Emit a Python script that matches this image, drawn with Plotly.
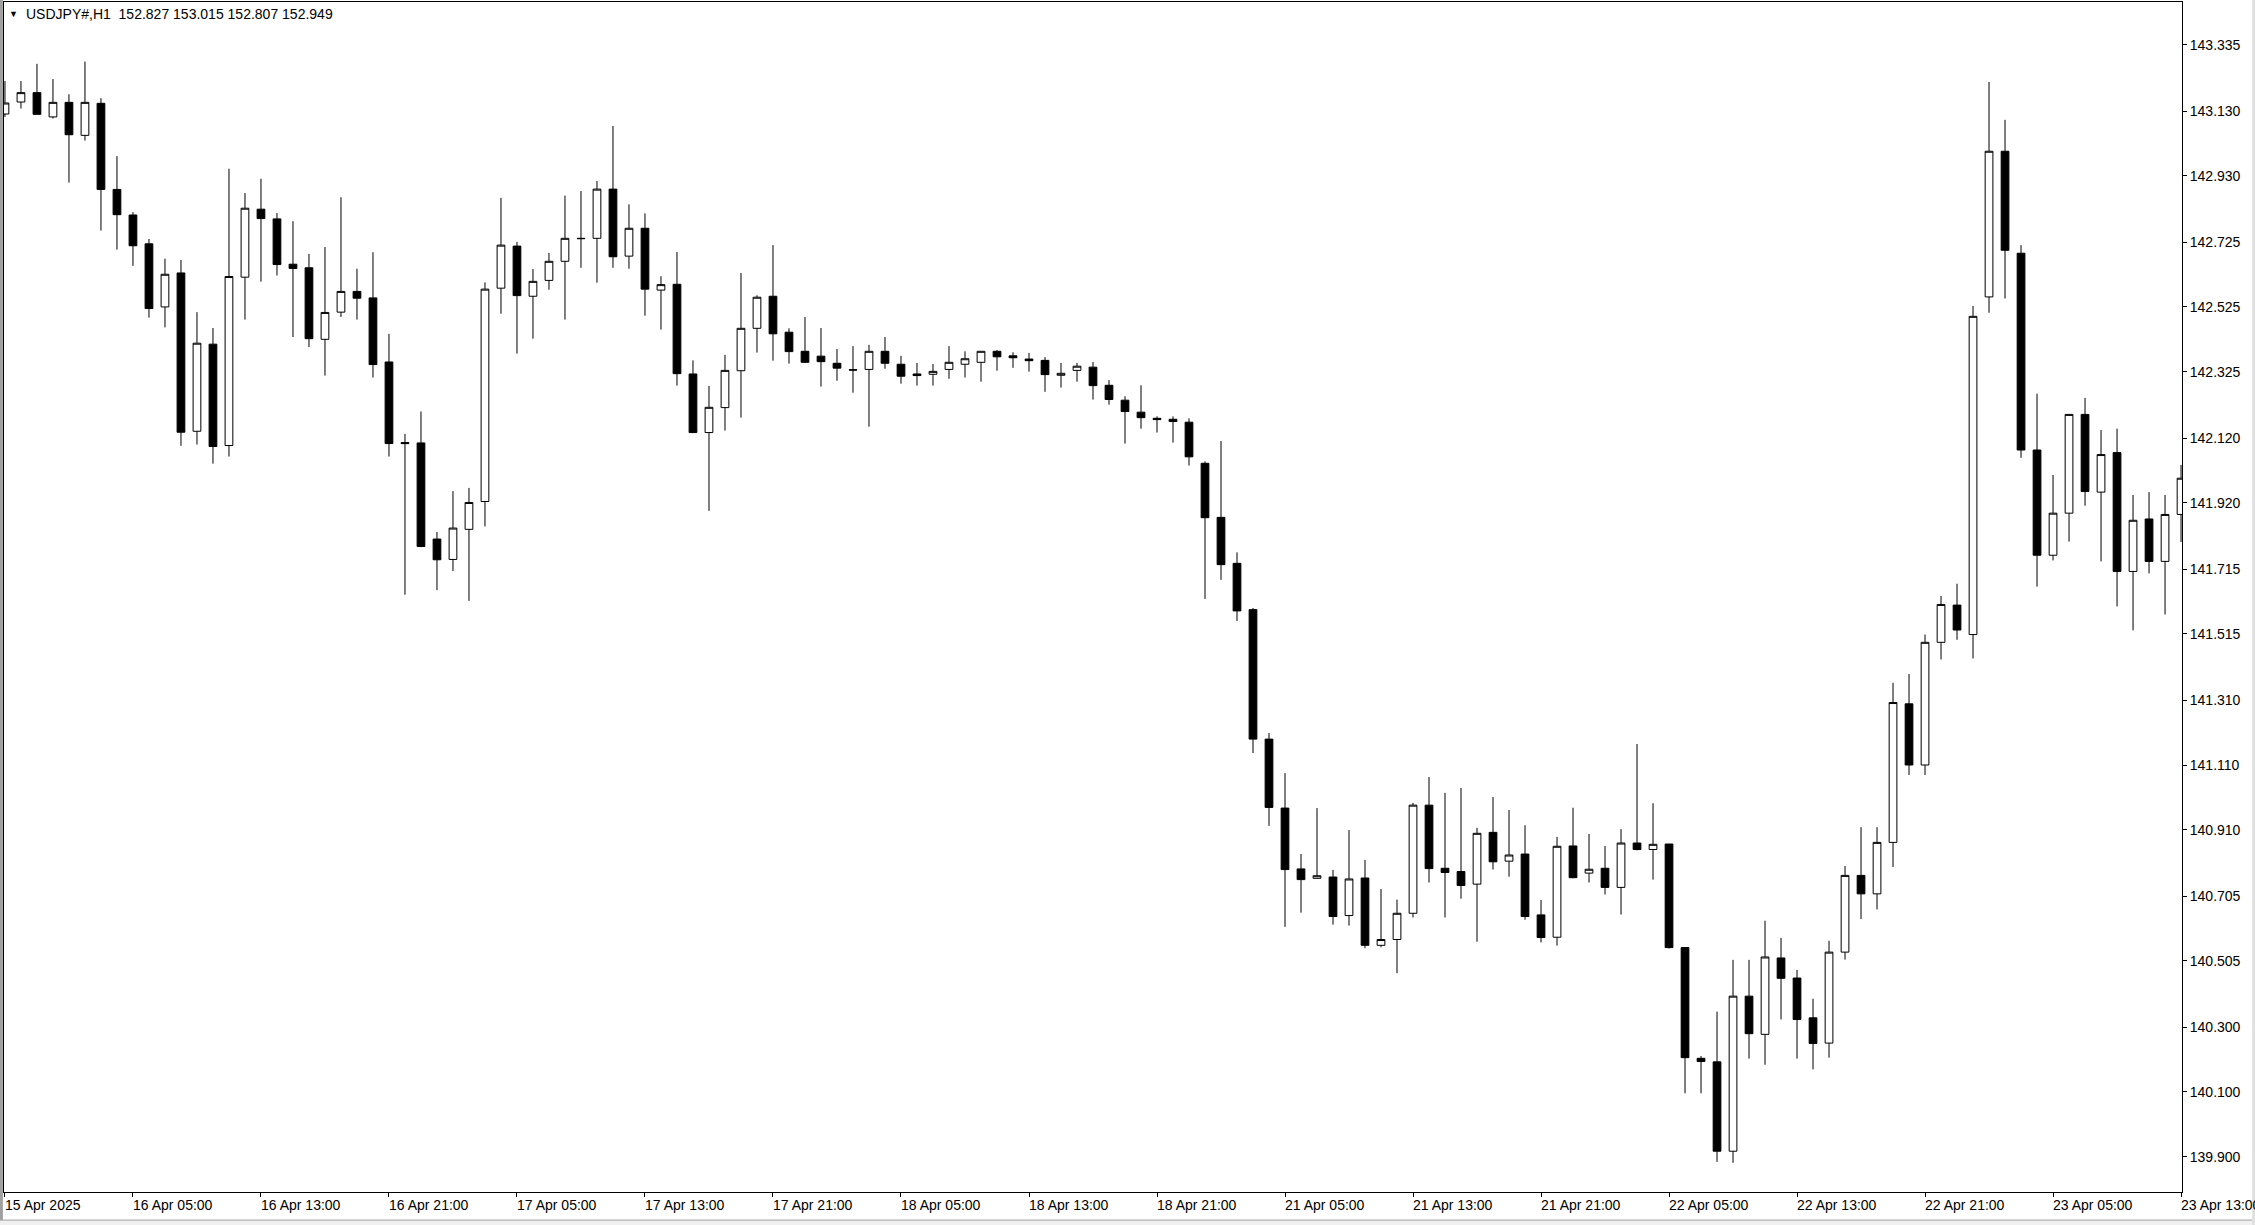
import plotly.graph_objects as go

# hourly USDJPY bars, 15 Apr 21:00 .. 23 Apr 13:00 (137 bars)
opens = [143.121, 143.158, 143.187, 143.112, 143.157, 143.055, 143.154, 142.888, 142.809, 142.720,
         142.525, 142.630, 142.141, 142.410, 142.097, 142.617, 142.827, 142.797, 142.657, 142.646,
         142.425, 142.509, 142.573, 142.553, 142.355, 142.106, 142.105, 141.808, 141.745, 141.838,
         141.924, 142.583, 142.713, 142.558, 142.607, 142.666, 142.737, 142.737, 142.889, 142.682,
         142.768, 142.577, 142.595, 142.318, 142.137, 142.214, 142.328, 142.459, 142.558, 142.447,
         142.388, 142.373, 142.351, 142.331, 142.332, 142.388, 142.348, 142.318, 142.317, 142.332,
         142.348, 142.354, 142.388, 142.374, 142.364, 142.360, 142.314, 142.329, 142.339, 142.283,
         142.237, 142.200, 142.181, 142.178, 142.169, 142.042, 141.875, 141.733, 141.590, 141.190,
         140.977, 140.789, 140.760, 140.764, 140.645, 140.761, 140.553, 140.571, 140.652, 140.986,
         140.791, 140.781, 140.742, 140.902, 140.813, 140.835, 140.647, 140.578, 140.860, 140.776,
         140.791, 140.732, 140.869, 140.849, 140.866, 140.546, 140.204, 140.193, 139.917, 140.396,
         140.278, 140.514, 140.452, 140.329, 140.251, 140.532, 140.769, 140.712, 140.871, 141.299,
         141.110, 141.489, 141.604, 141.513, 142.556, 143.006, 142.691, 142.083, 141.758, 141.888,
         142.193, 141.953, 142.075, 141.708, 141.870, 141.739, 141.884]
highs = [143.223, 143.223, 143.276, 143.229, 143.182, 143.283, 143.170, 142.991, 142.818, 142.735,
         142.674, 142.670, 142.509, 142.460, 142.952, 142.877, 142.921, 142.815, 142.790, 142.689,
         142.710, 142.864, 142.643, 142.694, 142.442, 142.133, 142.202, 141.830, 141.956, 141.966,
         142.601, 142.862, 142.726, 142.642, 142.692, 142.869, 142.883, 142.914, 143.084, 142.842,
         142.814, 142.620, 142.695, 142.360, 142.281, 142.377, 142.630, 142.561, 142.716, 142.459,
         142.494, 142.460, 142.395, 142.404, 142.408, 142.432, 142.374, 142.352, 142.349, 142.404,
         142.388, 142.388, 142.392, 142.385, 142.383, 142.370, 142.352, 142.352, 142.355, 142.299,
         142.249, 142.283, 142.187, 142.187, 142.181, 142.048, 142.111, 141.767, 141.595, 141.209,
         141.085, 140.835, 140.977, 140.786, 140.909, 140.817, 140.727, 140.694, 140.993, 141.073,
         141.024, 141.039, 140.916, 141.011, 140.971, 140.924, 140.693, 140.888, 140.978, 140.897,
         140.860, 140.912, 141.175, 140.992, 140.866, 140.546, 140.211, 140.348, 140.508, 140.508,
         140.629, 140.576, 140.477, 140.388, 140.567, 140.798, 140.918, 140.918, 141.364, 141.391,
         141.513, 141.632, 141.670, 142.528, 143.220, 143.103, 142.716, 142.257, 142.006, 142.193,
         142.244, 142.145, 142.149, 141.944, 141.953, 141.944, 142.037]
lows = [143.112, 143.138, 143.120, 143.107, 142.909, 143.039, 142.761, 142.702, 142.652, 142.492,
        142.462, 142.096, 142.100, 142.041, 142.063, 142.486, 142.603, 142.622, 142.432, 142.401,
        142.313, 142.494, 142.486, 142.307, 142.063, 141.636, 141.783, 141.650, 141.709, 141.617,
        141.847, 142.504, 142.381, 142.427, 142.578, 142.486, 142.646, 142.600, 142.646, 142.643,
        142.498, 142.455, 142.282, 142.135, 141.895, 142.143, 142.183, 142.384, 142.359, 142.350,
        142.352, 142.279, 142.297, 142.260, 142.155, 142.334, 142.288, 142.282, 142.282, 142.303,
        142.307, 142.294, 142.328, 142.337, 142.325, 142.263, 142.276, 142.294, 142.239, 142.223,
        142.103, 142.149, 142.137, 142.106, 142.035, 141.623, 141.682, 141.555, 141.147, 140.922,
        140.610, 140.654, 140.759, 140.617, 140.614, 140.544, 140.547, 140.467, 140.639, 140.747,
        140.639, 140.697, 140.564, 140.787, 140.765, 140.632, 140.562, 140.552, 140.760, 140.747,
        140.710, 140.648, 140.846, 140.756, 140.543, 140.096, 140.096, 139.884, 139.881, 140.203,
        140.184, 140.324, 140.203, 140.170, 140.206, 140.509, 140.634, 140.664, 140.795, 141.079,
        141.079, 141.436, 141.497, 141.439, 142.507, 142.551, 142.059, 141.661, 141.742, 141.800,
        141.911, 141.739, 141.600, 141.526, 141.702, 141.575, 141.799]
closes = [143.155, 143.187, 143.120, 143.157, 143.057, 143.157, 142.888, 142.810, 142.714, 142.520,
          142.626, 142.138, 142.413, 142.094, 142.619, 142.830, 142.798, 142.656, 142.644, 142.427,
          142.508, 142.573, 142.552, 142.347, 142.103, 142.103, 141.785, 141.744, 141.842, 141.921,
          142.580, 142.716, 142.560, 142.604, 142.666, 142.737, 142.736, 142.889, 142.680, 142.768,
          142.580, 142.594, 142.319, 142.137, 142.215, 142.329, 142.459, 142.555, 142.442, 142.387,
          142.354, 142.356, 142.336, 142.330, 142.388, 142.351, 142.311, 142.313, 142.326, 142.354,
          142.365, 142.388, 142.371, 142.368, 142.359, 142.316, 142.320, 142.342, 142.282, 142.239,
          142.202, 142.183, 142.177, 142.171, 142.062, 141.874, 141.729, 141.586, 141.190, 140.979,
          140.787, 140.756, 140.768, 140.642, 140.758, 140.553, 140.571, 140.652, 140.986, 140.790,
          140.778, 140.738, 140.899, 140.811, 140.832, 140.642, 140.577, 140.859, 140.762, 140.788,
          140.732, 140.869, 140.849, 140.865, 140.546, 140.206, 140.194, 139.917, 140.396, 140.280,
          140.517, 140.451, 140.324, 140.250, 140.532, 140.769, 140.712, 140.871, 141.303, 141.110,
          141.489, 141.606, 141.527, 142.496, 143.006, 142.700, 142.083, 141.758, 141.888, 142.193,
          141.955, 142.069, 141.708, 141.866, 141.739, 141.884, 141.996]

time_labels = ["15 Apr 2025", "16 Apr 05:00", "16 Apr 13:00", "16 Apr 21:00", "17 Apr 05:00",
               "17 Apr 13:00", "17 Apr 21:00", "18 Apr 05:00", "18 Apr 13:00", "18 Apr 21:00",
               "21 Apr 05:00", "21 Apr 13:00", "21 Apr 21:00", "22 Apr 05:00", "22 Apr 13:00",
               "22 Apr 21:00", "23 Apr 05:00", "23 Apr 13:00"]
label_bars = [0, 8, 16, 24, 32, 40, 48, 56, 64, 72, 80, 88, 96, 104, 112, 120, 128, 136]
price_ticks = [143.335, 143.130, 142.930, 142.725, 142.525, 142.325, 142.120, 141.920, 141.715,
               141.515, 141.310, 141.110, 140.910, 140.705, 140.505, 140.300, 140.100, 139.900]
header = "USDJPY#,H1\u00a0\u00a0152.827 153.015 152.807 152.949"

FONT = "Liberation Sans, Arial, sans-serif"
bars = list(range(len(opens)))

fig = go.Figure(go.Candlestick(
    x=bars, open=opens, high=highs, low=lows, close=closes,
    increasing=dict(line=dict(color="black", width=1), fillcolor="white"),
    decreasing=dict(line=dict(color="black", width=1), fillcolor="black"),
    whiskerwidth=0, hoverinfo="skip", showlegend=False,
))

# date labels sit to the right of their tick, MT4 style
for b, t in zip(label_bars, time_labels):
    fig.add_annotation(x=b, y=0, xref="x", yref="paper", text=t, showarrow=False,
                       xanchor="left", yanchor="middle", yshift=-13, xshift=-2,
                       font=dict(family=FONT, size=14, color="black"))

fig.add_annotation(x=0, y=1, xref="paper", yref="paper", text="\u25bc", showarrow=False,
                   xanchor="left", yanchor="middle", xshift=3, yshift=-12,
                   font=dict(family=FONT, size=9, color="black"))
fig.add_annotation(x=0, y=1, xref="paper", yref="paper", text=header, showarrow=False,
                   xanchor="left", yanchor="middle", xshift=20, yshift=-12,
                   font=dict(family=FONT, size=14, color="black"))

# window chrome: grey frame bits and the tab strip at the bottom
fig.add_shape(type="rect", xref="paper", yref="paper", x0=-0.0019, x1=-0.0005, y0=-0.03, y1=1.01,
              fillcolor="#a0a0a0", line_width=0, layer="below")
fig.add_shape(type="rect", xref="paper", yref="paper", x0=-0.01, x1=1.04, y0=-0.03, y1=-0.0236,
              fillcolor="#f0f0f0", line=dict(color="#a0a0a0", width=1), layer="below")
fig.add_shape(type="rect", xref="paper", yref="paper", x0=1.0322, x1=1.04, y0=-0.03, y1=1.01,
              fillcolor="#e0e0e0", line_width=0, layer="below")

fig.update_layout(
    width=2255, height=1225,
    margin=dict(l=4, r=73, t=2, b=33),
    paper_bgcolor="white", plot_bgcolor="white",
    boxgap=0.31,
    xaxis=dict(range=[-0.06, 136.06], rangeslider=dict(visible=False), showgrid=False,
               zeroline=False, showticklabels=False, tickvals=label_bars, ticks="outside",
               ticklen=4, tickcolor="black", showline=True, linecolor="black", linewidth=1,
               mirror=True),
    yaxis=dict(range=[139.791, 143.467], side="right", showgrid=False, zeroline=False,
               tickvals=price_ticks, tickformat=".3f", ticks="outside", ticklen=4,
               tickcolor="black", showline=True, linecolor="black", linewidth=1, mirror=True,
               tickfont=dict(family=FONT, size=14, color="black")),
)

# page body has a default 8px margin; drop it so the figure sits at the window corner
fig.write_html("out.html", config={"displayModeBar": False},
               post_script="document.body.style.margin='0';")
